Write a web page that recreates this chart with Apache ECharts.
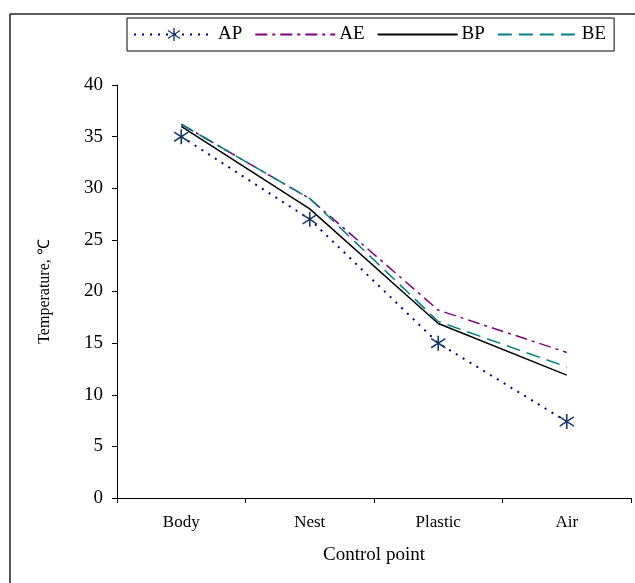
<!DOCTYPE html>
<html>
<head>
<meta charset="utf-8">
<script src="https://cdn.jsdelivr.net/npm/echarts@6/dist/echarts.min.js"></script>
<style>
  html, body { margin: 0; padding: 0; background: #fff; }
  #main { width: 635px; height: 583px; }
</style>
</head>
<body>
<div id="main"></div>
<script>
// control points and temperatures
var points = ['Body', 'Nest', 'Plastic', 'Air'];
var ap = [35, 27, 15, 7.4];
var ae = [36.2, 29, 18.2, 14.1];
var bp = [36, 28, 16.9, 11.9];
var be = [36.2, 29, 17.1, 12.7];

var serif = 'Liberation Serif, Times New Roman, serif';
// asterisk marker
var star = 'path://M-1,-10L1,-10L1,10L-1,10Z M-9.2,-5.3L-8.2,-7L9.2,5.3L8.2,7Z M8.2,-7L9.2,-5.3L-8.2,7L-9.2,5.3Z';

var myChart = echarts.init(document.getElementById('main'));

var option = {
    backgroundColor: '#fff',
    animation: false,
    textStyle: { fontFamily: serif },
    graphic: [
        { type: 'line', shape: { x1: 10, y1: 14, x2: 635, y2: 14 },
          style: { stroke: '#222', lineWidth: 1.5 }, silent: true },
        { type: 'line', shape: { x1: 10, y1: 14, x2: 10, y2: 583 },
          style: { stroke: '#222', lineWidth: 1.5 }, silent: true }
    ],
    legend: {
        left: 127,
        top: 18,
        width: 493,
        height: 32,
        padding: [7, 8, 7, 6],
        borderColor: '#000',
        borderWidth: 1,
        borderRadius: 0,
        itemWidth: 80,
        itemHeight: 16,
        itemGap: 12,
        textStyle: { fontFamily: serif, fontSize: 19, color: '#000', padding: [0, 0, 0, -1] },
        data: [
            { name: 'AP' },
            { name: 'AE', itemStyle: { opacity: 0 } },
            { name: 'BP', itemStyle: { opacity: 0 } },
            { name: 'BE', itemStyle: { opacity: 0 } }
        ]
    },
    grid: { left: 117, right: 4, top: 85, bottom: 85, containLabel: false },
    xAxis: {
        type: 'category',
        data: points,
        boundaryGap: true,
        name: 'Control point',
        nameLocation: 'middle',
        nameGap: 48,
        nameTextStyle: { fontFamily: serif, fontSize: 19, color: '#000' },
        axisLine: { lineStyle: { color: '#000', width: 1 } },
        axisTick: { show: true, length: 5, lineStyle: { color: '#000' } },
        axisLabel: { fontFamily: serif, fontSize: 17, color: '#000', margin: 16 },
        splitLine: { show: false }
    },
    yAxis: {
        type: 'value',
        min: 0,
        max: 40,
        interval: 5,
        name: 'Temperature, \u2103',
        nameLocation: 'middle',
        nameGap: 64,
        nameTextStyle: { fontFamily: serif, fontSize: 16, color: '#000' },
        axisLine: { show: true, lineStyle: { color: '#000', width: 1 } },
        axisTick: { show: true, length: 5, lineStyle: { color: '#000' } },
        axisLabel: { fontFamily: serif, fontSize: 19, color: '#000', margin: 14 },
        splitLine: { show: false }
    },
    series: [
        {
            name: 'AP', type: 'line', data: ap,
            symbol: star, symbolSize: 15,
            itemStyle: { color: '#1a3a6b' },
            lineStyle: { color: '#000080', width: 2, type: [2, 6] }
        },
        {
            name: 'AE', type: 'line', data: ae,
            symbol: 'none', showSymbol: false,
            itemStyle: { color: '#800080' },
            lineStyle: { color: '#800080', width: 1.5, type: [12, 5, 3, 5] }
        },
        {
            name: 'BP', type: 'line', data: bp,
            symbol: 'none', showSymbol: false,
            itemStyle: { color: '#000' },
            lineStyle: { color: '#000', width: 1.5, type: 'solid' }
        },
        {
            name: 'BE', type: 'line', data: be,
            symbol: 'none', showSymbol: false,
            itemStyle: { color: '#008080' },
            lineStyle: { color: '#008080', width: 1.5, type: [14, 7] }
        }
    ]
};

myChart.setOption(option);
</script>
</body>
</html>
